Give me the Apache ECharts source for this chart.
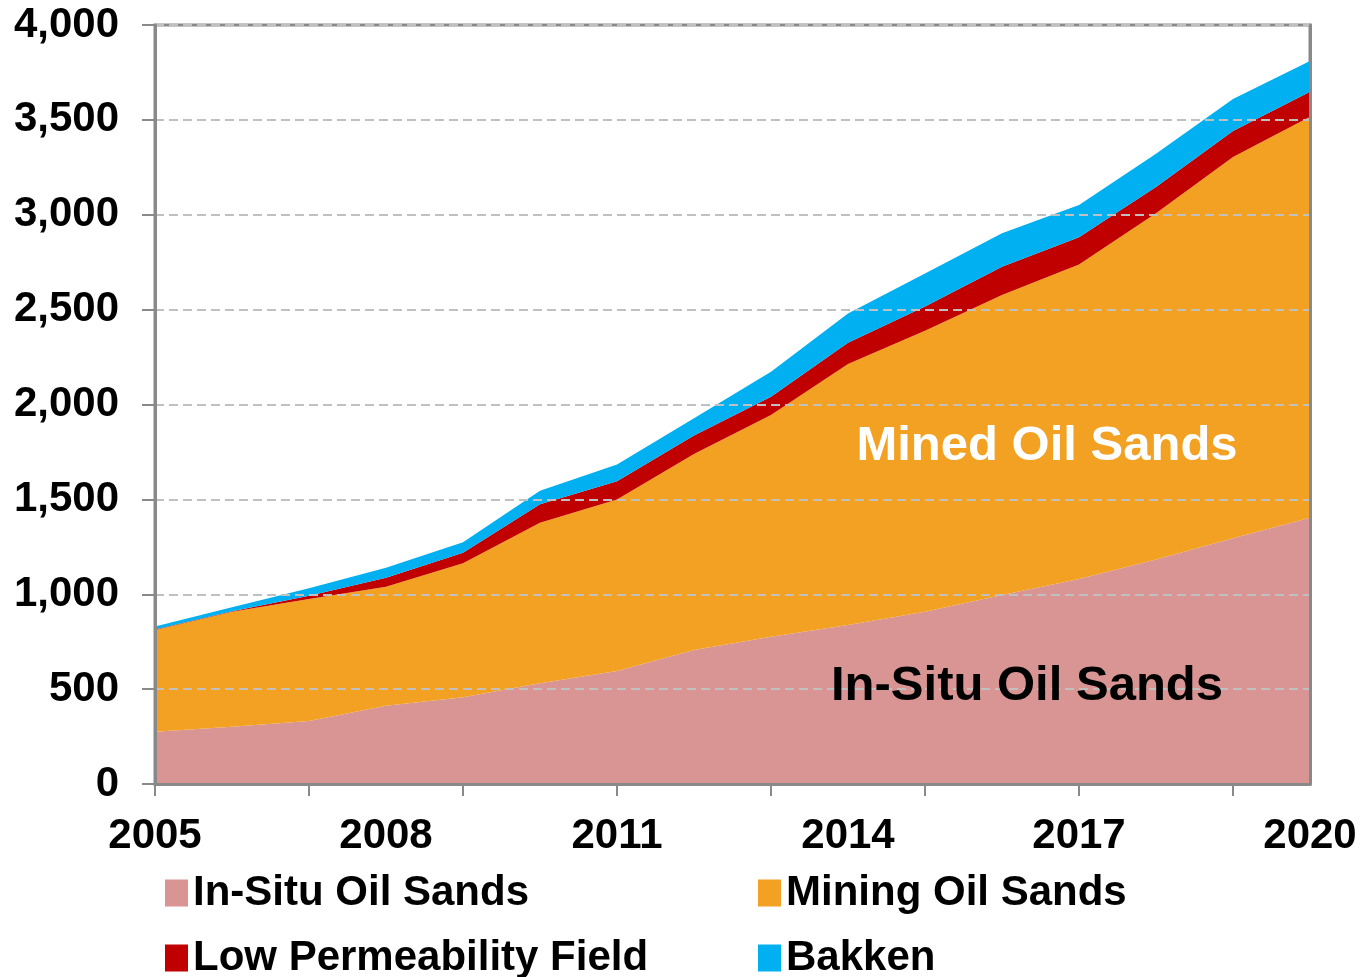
<!DOCTYPE html>
<html>
<head>
<meta charset="utf-8">
<title>Oil supply</title>
<script src="https://cdn.jsdelivr.net/npm/echarts@6/dist/echarts.min.js"></script>
<style>
  html, body { margin: 0; padding: 0; background: #fff; }
  #chart { width: 1362px; height: 977px; }
</style>
</head>
<body>
<div id="chart"></div>
<script>
// years on the x axis
var years = ['2005', '2006', '2007', '2008', '2009', '2010', '2011', '2012',
  '2013', '2014', '2015', '2016', '2017', '2018', '2019', '2020']

// stacked values
var inSitu = [276, 302, 332, 413, 457, 531, 595, 706, 776, 838, 908, 996, 1080, 1183, 1295, 1403]
var mining = [536, 606, 643, 627, 706, 846, 905, 1033, 1169, 1375, 1481, 1581, 1658, 1825, 2009, 2113]
var lowPerm = [2, 2, 17, 47, 56, 97, 96, 97, 96, 113, 127, 149, 144, 138, 137, 132]
var bakken = [16, 21, 39, 53, 55, 72, 88, 91, 132, 154, 175, 176, 169, 176, 169, 162]

var font = 'Liberation Sans, Arial, sans-serif'
var axisGray = '#898989'

function area(name, data, color) {
  return {
    name: name,
    type: 'line',
    stack: 'total',
    data: data,
    showSymbol: false,
    symbol: 'none',
    lineStyle: { width: 0 },
    areaStyle: { color: color, opacity: 1 },
    itemStyle: { color: color },
    emphasis: { disabled: true },
    animation: false
  }
}

// one legend box per entry, laid out 2 x 2 like the original
function legendItem(name, left, top) {
  return {
    left: left,
    top: top,
    padding: 0,
    itemWidth: 23,
    itemHeight: 27,
    icon: 'rect',
    textStyle: { fontFamily: font, fontWeight: 'bold', fontSize: 42, color: '#000' },
    data: [name]
  }
}

var chart = echarts.init(document.getElementById('chart'))
chart.setOption({
  backgroundColor: '#fff',
  grid: {
    left: 155,
    right: 52,
    top: 25,
    bottom: 193,
    show: true,
    borderColor: axisGray,
    borderWidth: 3
  },
  legend: [
    legendItem('In-Situ Oil Sands', 165, 872),
    legendItem('Mining Oil Sands', 758, 872),
    legendItem('Low Permeability Field', 165, 937),
    legendItem('Bakken', 758, 937)
  ],
  xAxis: {
    type: 'category',
    data: years,
    boundaryGap: false,
    z: 5,
    axisLine: { lineStyle: { color: axisGray, width: 3 } },
    axisTick: { interval: 1, length: 12, lineStyle: { color: axisGray, width: 2 } },
    axisLabel: {
      interval: 2,
      margin: 31,
      fontFamily: font,
      fontWeight: 'bold',
      fontSize: 42,
      color: '#000'
    },
    splitLine: { show: false }
  },
  yAxis: [{
    type: 'value',
    min: 0,
    max: 4000,
    interval: 500,
    z: 5,
    axisLine: { show: true, lineStyle: { color: axisGray, width: 3 } },
    axisTick: { show: true, length: 13, lineStyle: { color: axisGray, width: 2 } },
    axisLabel: {
      margin: 36,
      fontFamily: font,
      fontWeight: 'bold',
      fontSize: 42,
      color: '#000',
      formatter: function (v) { return v.toLocaleString('en-US') }
    },
    splitLine: { show: true, lineStyle: { color: '#c0c0c0', width: 2, type: [9, 5] } }
  }, {
    type: 'value',
    position: 'right',
    min: 0,
    max: 4000,
    z: 5,
    axisLine: { show: true, lineStyle: { color: axisGray, width: 3 } },
    axisTick: { show: false },
    axisLabel: { show: false },
    splitLine: { show: false }
  }],
  series: [
    area('In-Situ Oil Sands', inSitu, '#d99594'),
    area('Mining Oil Sands', mining, '#f2a122'),
    area('Low Permeability Field', lowPerm, '#c00000'),
    area('Bakken', bakken, '#00b0f0')
  ],
  graphic: [{
    type: 'text',
    x: 1047,
    y: 446,
    z: 10,
    style: {
      text: 'Mined Oil Sands',
      font: 'bold 49px ' + font,
      fill: '#fff',
      align: 'center',
      verticalAlign: 'middle'
    }
  }, {
    type: 'text',
    x: 1027,
    y: 686,
    z: 10,
    style: {
      text: 'In-Situ Oil Sands',
      font: 'bold 49px ' + font,
      fill: '#000',
      align: 'center',
      verticalAlign: 'middle'
    }
  }]
})
</script>
</body>
</html>
